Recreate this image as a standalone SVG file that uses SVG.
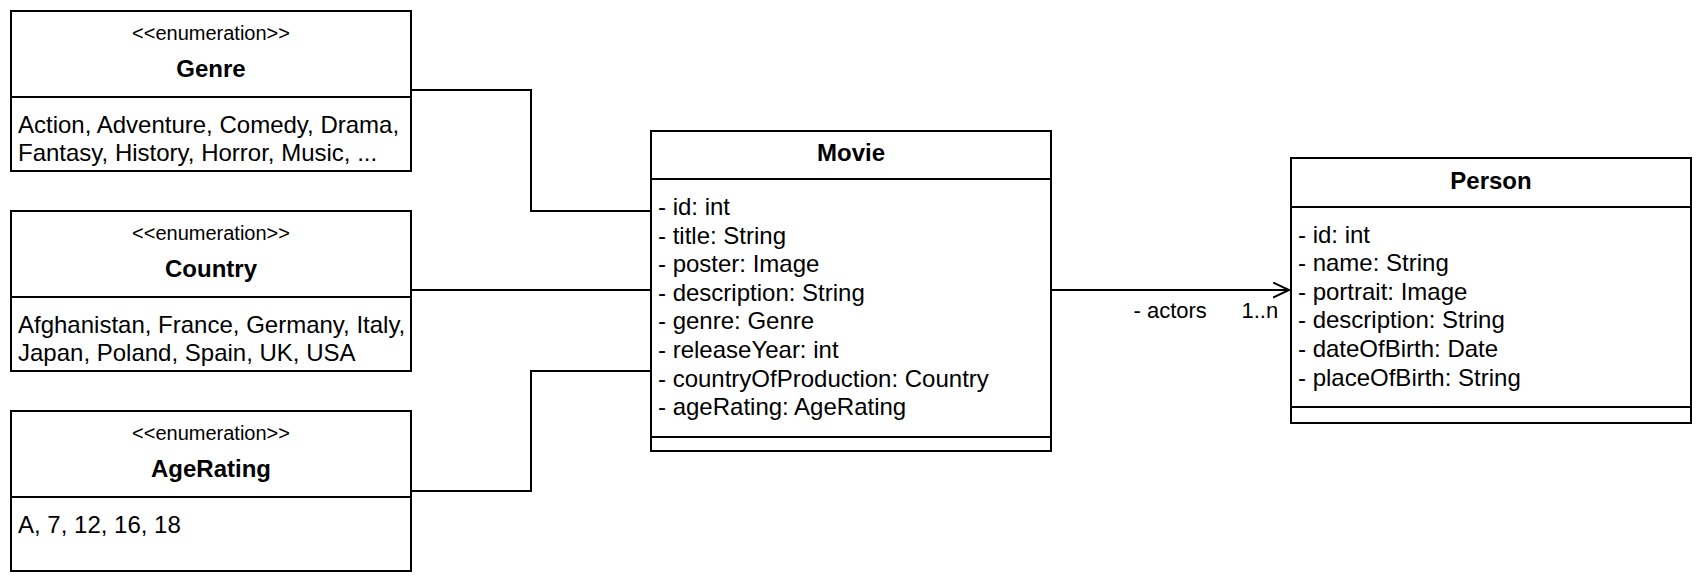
<svg xmlns="http://www.w3.org/2000/svg" width="1704" height="582" viewBox="0 0 1704 582">
<defs>
<style>
.box{fill:#fff;stroke:#000;stroke-width:2}
.ln{fill:none;stroke:#000;stroke-width:2}
text{font-family:"Liberation Sans",Arial,sans-serif;fill:#000}
.st{font-size:20px;text-anchor:middle}
.ti{font-size:24px;font-weight:bold;text-anchor:middle}
.at{font-size:24px}
.lb{font-size:22px}
</style>
<marker id="open" markerWidth="20" markerHeight="20" refX="16" refY="8" orient="auto" markerUnits="userSpaceOnUse">
<path d="M0,0.5 L16,8 L0,15.5" fill="none" stroke="#000" stroke-width="2"/>
</marker>
</defs>
<rect width="1704" height="582" fill="#fff"/>
<g id="connectors">
<path class="ln" d="M411,90 H531 V211 H651"/>
<path class="ln" d="M411,290 H651"/>
<path class="ln" d="M411,491 H531 V371 H651"/>
<path class="ln" d="M1051,290 H1289" marker-end="url(#open)"/>
<text class="lb" x="1133.5" y="318">- actors</text>
<text class="lb" x="1241.5" y="318">1..n</text>
</g>
<g id="genre">
<rect class="box" x="11" y="11" width="400" height="160"/>
<line class="ln" x1="11" y1="97" x2="411" y2="97"/>
<text class="st" x="211" y="40">&lt;&lt;enumeration&gt;&gt;</text>
<text class="ti" x="211" y="76.5">Genre</text>
<text class="at" x="18" y="133">Action, Adventure, Comedy, Drama,</text>
<text class="at" x="18" y="161">Fantasy, History, Horror, Music, ...</text>
</g>
<g id="country">
<rect class="box" x="11" y="211" width="400" height="160"/>
<line class="ln" x1="11" y1="297" x2="411" y2="297"/>
<text class="st" x="211" y="240">&lt;&lt;enumeration&gt;&gt;</text>
<text class="ti" x="211" y="276.5">Country</text>
<text class="at" x="18" y="333">Afghanistan, France, Germany, Italy,</text>
<text class="at" x="18" y="361">Japan, Poland, Spain, UK, USA</text>
</g>
<g id="agerating">
<rect class="box" x="11" y="411" width="400" height="160"/>
<line class="ln" x1="11" y1="497" x2="411" y2="497"/>
<text class="st" x="211" y="440">&lt;&lt;enumeration&gt;&gt;</text>
<text class="ti" x="211" y="476.5">AgeRating</text>
<text class="at" x="18" y="533">A, 7, 12, 16, 18</text>
</g>
<g id="movie">
<rect class="box" x="651" y="131" width="400" height="320"/>
<line class="ln" x1="651" y1="179" x2="1051" y2="179"/>
<line class="ln" x1="651" y1="437" x2="1051" y2="437"/>
<text class="ti" x="851" y="160.5">Movie</text>
<text class="at" x="658" y="215">- id: int</text>
<text class="at" x="658" y="243.6">- title: String</text>
<text class="at" x="658" y="272.2">- poster: Image</text>
<text class="at" x="658" y="300.8">- description: String</text>
<text class="at" x="658" y="329.4">- genre: Genre</text>
<text class="at" x="658" y="358">- releaseYear: int</text>
<text class="at" x="658" y="386.6">- countryOfProduction: Country</text>
<text class="at" x="658" y="415.2">- ageRating: AgeRating</text>
</g>
<g id="person">
<rect class="box" x="1291" y="158" width="400" height="265"/>
<line class="ln" x1="1291" y1="207" x2="1691" y2="207"/>
<line class="ln" x1="1291" y1="407" x2="1691" y2="407"/>
<text class="ti" x="1491" y="189">Person</text>
<text class="at" x="1298" y="242.5">- id: int</text>
<text class="at" x="1298" y="271.1">- name: String</text>
<text class="at" x="1298" y="299.7">- portrait: Image</text>
<text class="at" x="1298" y="328.3">- description: String</text>
<text class="at" x="1298" y="356.9">- dateOfBirth: Date</text>
<text class="at" x="1298" y="385.5">- placeOfBirth: String</text>
</g>
</svg>
